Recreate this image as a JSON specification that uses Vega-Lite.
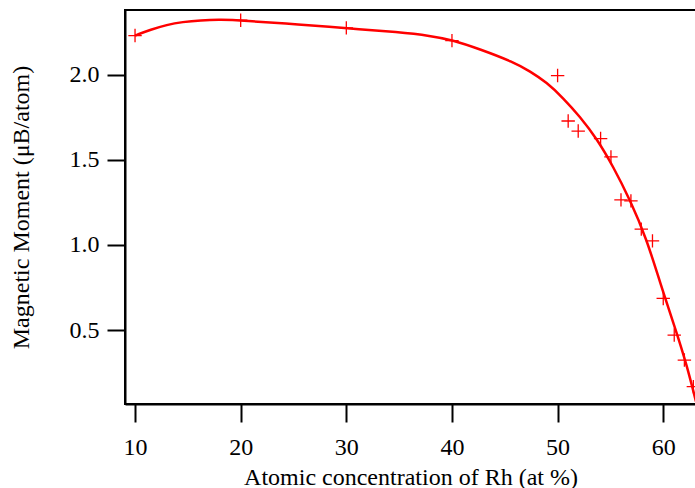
{
  "$schema": "https://vega.github.io/schema/vega-lite/v6.json",
  "autosize": {"type": "none"},
  "padding": {"left": 125, "top": 10, "right": 0, "bottom": 84},
  "width": 571,
  "height": 394,
  "background": "white",
  "config": {
    "view": {"stroke": "black", "strokeWidth": 2},
    "font": "Liberation Serif",
    "axis": {
      "labelFont": "Liberation Serif",
      "titleFont": "Liberation Serif",
      "labelFontSize": 24,
      "titleFontSize": 24,
      "titleFontWeight": "normal",
      "labelColor": "black",
      "titleColor": "black",
      "domainColor": "black",
      "domainWidth": 2,
      "grid": false
    },
    "axisY": {"ticks": true, "tickColor": "black", "tickWidth": 2, "tickSize": 18},
    "axisX": {"ticks": true, "tickColor": "black", "tickWidth": 2, "tickSize": 18}
  },
  "datasets": {
    "points": [
      {"x": 10, "y": 2.23},
      {"x": 20, "y": 2.32},
      {"x": 30, "y": 2.275},
      {"x": 40, "y": 2.2},
      {"x": 50, "y": 1.995},
      {"x": 51, "y": 1.728},
      {"x": 51.95, "y": 1.669},
      {"x": 54.07, "y": 1.625},
      {"x": 55.05, "y": 1.517},
      {"x": 56, "y": 1.265},
      {"x": 56.94, "y": 1.259},
      {"x": 57.92, "y": 1.093},
      {"x": 58.98, "y": 1.024},
      {"x": 60, "y": 0.686},
      {"x": 61.04, "y": 0.471},
      {"x": 62, "y": 0.324},
      {"x": 62.85, "y": 0.168}
    ],
    "fit": [
      {"x": 10, "y": 2.23},
      {"x": 11.5, "y": 2.265},
      {"x": 13, "y": 2.293},
      {"x": 14.5, "y": 2.31},
      {"x": 16.2, "y": 2.32},
      {"x": 18.1, "y": 2.324},
      {"x": 20.2, "y": 2.318},
      {"x": 25.6, "y": 2.295},
      {"x": 30, "y": 2.273},
      {"x": 35, "y": 2.25},
      {"x": 38, "y": 2.228},
      {"x": 40, "y": 2.205},
      {"x": 42.65, "y": 2.15},
      {"x": 45.8, "y": 2.075},
      {"x": 47.4, "y": 2.02},
      {"x": 48.96, "y": 1.955},
      {"x": 50.5, "y": 1.865},
      {"x": 52.1, "y": 1.755},
      {"x": 53.7, "y": 1.625},
      {"x": 55.27, "y": 1.46},
      {"x": 56.85, "y": 1.265},
      {"x": 58.43, "y": 1.035},
      {"x": 59.69, "y": 0.78},
      {"x": 61.27, "y": 0.485},
      {"x": 62.2, "y": 0.3},
      {"x": 63.1, "y": 0.08}
    ]
  },
  "layer": [
    {
      "data": {"name": "fit"},
      "mark": {"type": "line", "color": "#ff0000", "strokeWidth": 2.5, "interpolate": "basis", "clip": true},
      "encoding": {
        "x": {
          "field": "x", "type": "quantitative",
          "scale": {"domain": [9.05, 63.1], "nice": false, "zero": false},
          "axis": {
            "title": "Atomic concentration of Rh (at %)",
            "values": [10, 20, 30, 40, 50, 60],
            "labelPadding": 13,
            "titlePadding": 6
          }
        },
        "y": {
          "field": "y", "type": "quantitative",
          "scale": {"domain": [0.066, 2.38], "nice": false, "zero": false},
          "axis": {
            "title": "Magnetic Moment (μB/atom)",
            "values": [0.5, 1, 1.5, 2],
            "format": ".1f",
            "labelPadding": 8,
            "titlePadding": 36
          }
        }
      }
    },
    {
      "data": {"name": "points"},
      "mark": {
        "type": "point",
        "shape": "M-1,0L1,0M0,-1L0,1",
        "size": 180,
        "filled": false,
        "stroke": "#ff0000",
        "strokeWidth": 1.3,
        "opacity": 1,
        "clip": true
      },
      "encoding": {
        "x": {"field": "x", "type": "quantitative"},
        "y": {"field": "y", "type": "quantitative"}
      }
    }
  ]
}
